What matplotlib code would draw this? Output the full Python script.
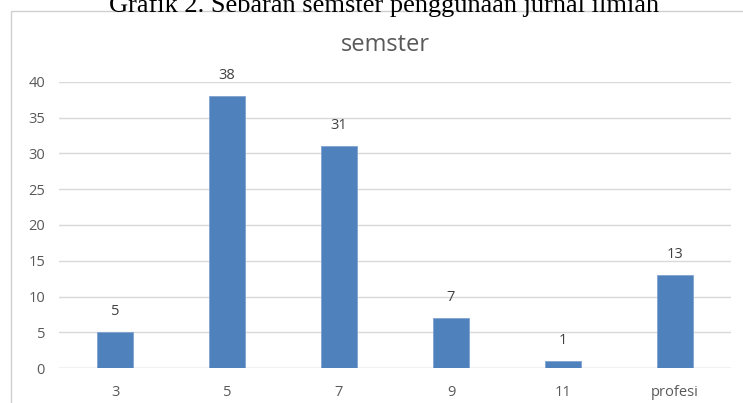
import matplotlib.pyplot as plt
from matplotlib.patches import Rectangle

semesters = ["3", "5", "7", "9", "11", "profesi"]
counts = [5, 38, 31, 7, 1, 13]
y_ticks = [0, 5, 10, 15, 20, 25, 30, 35, 40]

text_gray = "#595959"
bar_blue = "#4f81bd"

fig = plt.figure(figsize=(7.43, 4.03), dpi=100)
fig.patch.set_facecolor("white")

# chart frame (only its top and left edges fall inside the image)
fig.patches.append(Rectangle((11 / 743, -0.1), 1.2, 1 - 11 / 403 + 0.1,
                             transform=fig.transFigure, fill=False,
                             edgecolor="#d0d0d0", linewidth=1.0))

# document caption sitting above the chart, clipped by the top edge
fig.text(384 / 743, 1 - 12 / 403, "Grafik 2. Sebaran semster penggunaan jurnal ilmiah",
         ha="center", va="baseline", fontsize=19, family="Liberation Serif",
         color="black")

ax = fig.add_axes([59 / 743, 1 - 368 / 403, 672 / 743, 286 / 403])
x = range(len(semesters))
bars = ax.bar(x, counts, width=0.32, color=bar_blue, edgecolor="#7fa3d1",
              linewidth=0.6, zorder=3)

for xi, v in zip(x, counts):
    ax.text(xi, v + 2.9, str(v), ha="center", va="center", fontsize=10.5,
            color="#404040", family="Open Sans")

ax.set_xlim(-0.5, len(semesters) - 0.5)
ax.set_ylim(0, 40)
ax.set_yticks(y_ticks)
ax.set_xticks(list(x))
ax.set_xticklabels(semesters)
ax.grid(axis="y", color="#d9d9d9", linewidth=1.0, zorder=0)
ax.tick_params(axis="y", length=0, labelsize=10.5, labelcolor=text_gray, pad=10)
ax.tick_params(axis="x", length=0, labelsize=10.5, labelcolor=text_gray, pad=12)
for lab in ax.get_xticklabels() + ax.get_yticklabels():
    lab.set_family("Open Sans")
for s in ax.spines.values():
    s.set_visible(False)
ax.axhline(0, color="#d9d9d9", linewidth=1.0, zorder=1)

fig.text(385 / 743, 1 - 45 / 403, "semster", ha="center", va="center",
         fontsize=17, color=text_gray, family="Open Sans")

fig.savefig("out.png", dpi=100)
